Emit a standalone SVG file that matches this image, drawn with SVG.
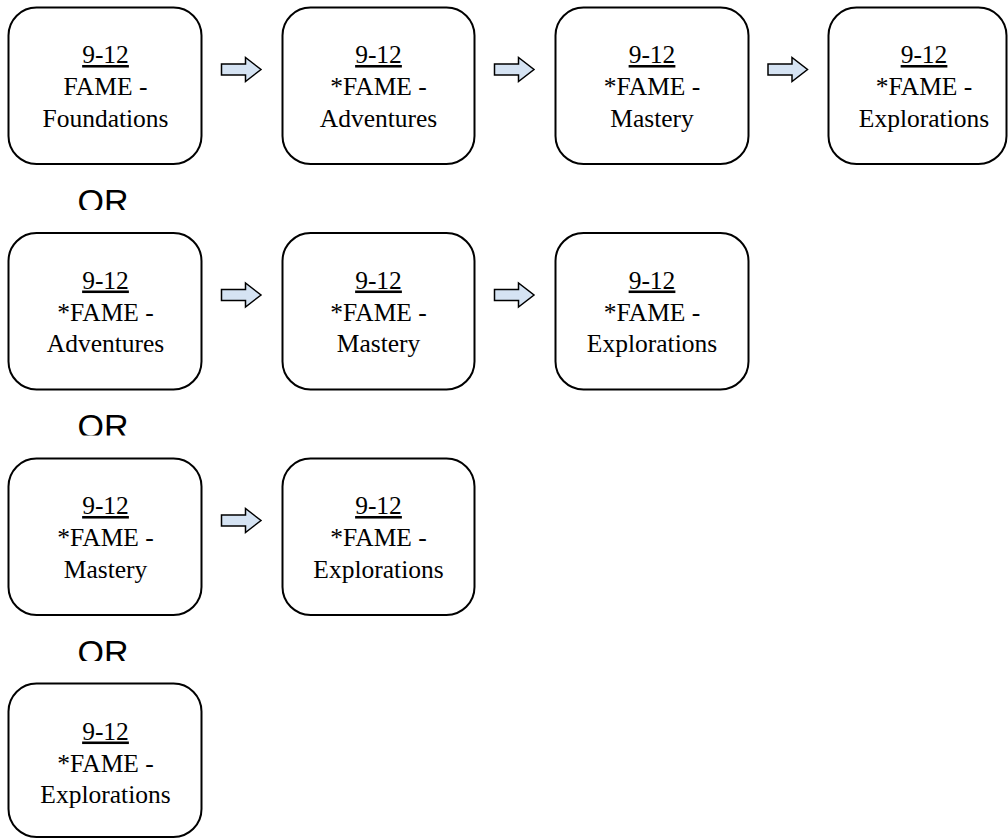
<svg xmlns="http://www.w3.org/2000/svg" width="1008" height="838" viewBox="0 0 1008 838">
<style>
.box{fill:#fff;stroke:#000;stroke-width:2}
.t{font-family:"Liberation Serif","Times New Roman",serif;font-size:25.5px;fill:#000;text-anchor:middle}
.u{text-decoration:underline}
.or{font-family:"Liberation Sans",Arial,sans-serif;font-size:34px;fill:#000;text-anchor:middle}
.arr{fill:#d5e3f3;stroke:#000;stroke-width:1.5;stroke-linejoin:miter}
</style>
<defs>
<clipPath id="orclip"><rect x="0" y="180" width="300" height="30"/></clipPath>
<path id="arrow" class="arr" d="M0,-5.5 H24 V-12 L39.5,0 L24,12 V5.5 H0 Z"/>
</defs>
<rect width="1008" height="838" fill="#fff"/>

<g id="connectors">
<use href="#arrow" x="221.5" y="69.5"/>
<use href="#arrow" x="494.5" y="69.5"/>
<use href="#arrow" x="768" y="69.5"/>
<use href="#arrow" x="221.5" y="295"/>
<use href="#arrow" x="494.5" y="295"/>
<use href="#arrow" x="221.5" y="520.5"/>
</g>

<g id="r1n1"><rect class="box" x="8.5" y="7.5" width="193" height="156.5" rx="28"/>
<text class="t" x="105.5" y="63"><tspan class="u">9-12</tspan><tspan x="105.5" dy="32">FAME -</tspan><tspan x="105.5" dy="31.5">Foundations</tspan></text></g>
<g id="r1n2"><rect class="box" x="282.5" y="7.5" width="192" height="156.5" rx="28"/>
<text class="t" x="378.5" y="63"><tspan class="u">9-12</tspan><tspan x="378.5" dy="32">*FAME -</tspan><tspan x="378.5" dy="31.5">Adventures</tspan></text></g>
<g id="r1n3"><rect class="box" x="555.5" y="7.5" width="193" height="156.5" rx="28"/>
<text class="t" x="652" y="63"><tspan class="u">9-12</tspan><tspan x="652" dy="32">*FAME -</tspan><tspan x="652" dy="31.5">Mastery</tspan></text></g>
<g id="r1n4"><rect class="box" x="828.5" y="7.5" width="178" height="156.5" rx="28"/>
<text class="t" x="924" y="63"><tspan class="u">9-12</tspan><tspan x="924" dy="32">*FAME -</tspan><tspan x="924" dy="31.5">Explorations</tspan></text></g>

<g id="or1"><text class="or" x="103" y="212.5" clip-path="url(#orclip)">OR</text></g>

<g id="r2n1"><rect class="box" x="8.5" y="233" width="193" height="156.5" rx="28"/>
<text class="t" x="105.5" y="288.5"><tspan class="u">9-12</tspan><tspan x="105.5" dy="32">*FAME -</tspan><tspan x="105.5" dy="31.5">Adventures</tspan></text></g>
<g id="r2n2"><rect class="box" x="282.5" y="233" width="192" height="156.5" rx="28"/>
<text class="t" x="378.5" y="288.5"><tspan class="u">9-12</tspan><tspan x="378.5" dy="32">*FAME -</tspan><tspan x="378.5" dy="31.5">Mastery</tspan></text></g>
<g id="r2n3"><rect class="box" x="555.5" y="233" width="193" height="156.5" rx="28"/>
<text class="t" x="652" y="288.5"><tspan class="u">9-12</tspan><tspan x="652" dy="32">*FAME -</tspan><tspan x="652" dy="31.5">Explorations</tspan></text></g>

<g id="or2" transform="translate(0,225.5)"><text class="or" x="103" y="212.5" clip-path="url(#orclip)">OR</text></g>

<g id="r3n1"><rect class="box" x="8.5" y="458.5" width="193" height="156.5" rx="28"/>
<text class="t" x="105.5" y="514"><tspan class="u">9-12</tspan><tspan x="105.5" dy="32">*FAME -</tspan><tspan x="105.5" dy="31.5">Mastery</tspan></text></g>
<g id="r3n2"><rect class="box" x="282.5" y="458.5" width="192" height="156.5" rx="28"/>
<text class="t" x="378.5" y="514"><tspan class="u">9-12</tspan><tspan x="378.5" dy="32">*FAME -</tspan><tspan x="378.5" dy="31.5">Explorations</tspan></text></g>

<g id="or3" transform="translate(0,451)"><text class="or" x="103" y="212.5" clip-path="url(#orclip)">OR</text></g>

<g id="r4n1"><rect class="box" x="8.5" y="683.5" width="193" height="153.5" rx="28"/>
<text class="t" x="105.5" y="739.5"><tspan class="u">9-12</tspan><tspan x="105.5" dy="32">*FAME -</tspan><tspan x="105.5" dy="31.5">Explorations</tspan></text></g>
</svg>
